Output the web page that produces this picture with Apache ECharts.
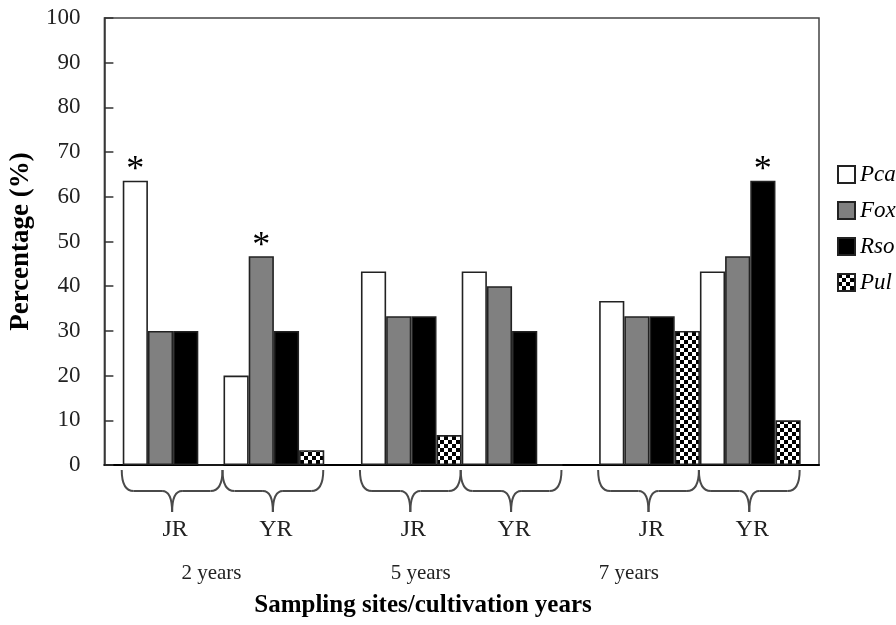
<!DOCTYPE html>
<html>
<head>
<meta charset="utf-8">
<script src="https://cdn.jsdelivr.net/npm/echarts@6/dist/echarts.min.js"></script>
<style>html,body{margin:0;padding:0;background:#fff;}#c{width:896px;height:625px;}</style>
</head>
<body>
<div id="c"></div>
<script>
// ---- data ----
const categories = ['2 years', '5 years', '7 years'];
const sites = ['JR', 'YR'];
const species = ['Pca', 'Fox', 'Rso', 'Pul'];
// order: 2y JR, 2y YR, 5y JR, 5y YR, 7y JR, 7y YR
const pca = [63.6, 20.0, 43.3, 43.3, 36.7, 43.3];
const fox = [30.0, 46.7, 33.3, 40.0, 33.3, 46.7];
const rso = [30.0, 30.0, 33.3, 30.0, 33.3, 63.6];
const pul = [0, 3.3, 6.7, 0, 30.0, 10.0];
// significance marks: [species index, group index]
const stars = [[0, 0], [1, 1], [2, 5]];
const yTicks = [0, 10, 20, 30, 40, 50, 60, 70, 80, 90, 100];

const values = [pca, fox, rso, pul];
const SERIF = "'Liberation Serif','Times New Roman',serif";

// checkerboard pattern
const pc = document.createElement('canvas');
pc.width = 8; pc.height = 8;
const g = pc.getContext('2d');
g.fillStyle = '#fff'; g.fillRect(0, 0, 8, 8);
g.fillStyle = '#000'; g.fillRect(0, 0, 4, 4); g.fillRect(4, 4, 4, 4);
const fills = ['#ffffff', '#808080', '#000000', { image: pc, repeat: 'repeat' }];

const CAT_GAP = 0.154;
const series = [];
sites.forEach((s, si) => {
  species.forEach((sp, k) => {
    series.push({
      type: 'bar',
      name: sp,
      barGap: '0%',
      barCategoryGap: (CAT_GAP * 100) + '%',
      itemStyle: { color: fills[k], borderColor: '#222', borderWidth: 1.6 },
      data: categories.map((c, i) => {
        const gi = i * 2 + si;
        const v = values[k][gi];
        const starred = stars.some(st => st[0] === k && st[1] === gi);
        const d = { value: v };
        if (starred) {
          d.label = { show: true, position: 'top', formatter: '*', fontSize: 36, fontFamily: SERIF, color: '#000', distance: -8 };
        }
        return d;
      })
    });
  });
});

const chart = echarts.init(document.getElementById('c'), null, { renderer: 'canvas' });
chart.setOption({
  animation: false,
  backgroundColor: '#fff',
  grid: { left: 104, right: 77, top: 18, bottom: 160, show: true, borderColor: '#444', borderWidth: 1.5, backgroundColor: 'transparent' },
  legend: {
    data: species,
    orient: 'vertical',
    left: 832, top: 158,
    itemWidth: 17, itemHeight: 17, itemGap: 13,
    icon: 'rect',
    textStyle: { fontFamily: SERIF, fontStyle: 'italic', fontSize: 23, color: '#000' }
  },
  xAxis: {
    type: 'category',
    data: categories,
    axisLine: { lineStyle: { color: '#000', width: 2 } },
    axisTick: { show: false },
    axisLabel: { show: false },
    splitLine: { show: false }
  },
  yAxis: {
    type: 'value', min: 0, max: 100, interval: 10,
    name: 'Percentage (%)', nameLocation: 'middle', nameGap: 56,
    nameTextStyle: { fontFamily: SERIF, fontWeight: 'bold', fontSize: 27, color: '#000' },
    axisLine: { show: true, lineStyle: { color: '#333', width: 1.5 } },
    axisTick: { show: true, inside: true, length: 9, lineStyle: { color: '#333', width: 1.5 } },
    axisLabel: { margin: 24, fontFamily: SERIF, fontSize: 23, color: '#222' },
    splitLine: { show: false }
  },
  series: series
});

// braces and labels under the axis
function braces() {
  const c0 = chart.convertToPixel({ xAxisIndex: 0 }, 0);
  const c1 = chart.convertToPixel({ xAxisIndex: 0 }, 1);
  const band = c1 - c0;
  const bw = band * (1 - CAT_GAP) / 8;
  const y0 = chart.convertToPixel({ yAxisIndex: 0 }, 0);
  const top = y0 + 5, mid = y0 + 26, tip = y0 + 47;
  const els = [];
  const st = { fill: null, stroke: '#4a4a4a', lineWidth: 2 };
  const curve = (x1, y1, cx, cy, x2, y2) => ({ type: 'bezierCurve', shape: { x1, y1, x2, y2, cpx1: cx, cpy1: cy }, style: st, silent: true });
  const line = (x1, y1, x2, y2) => ({ type: 'line', shape: { x1, y1, x2, y2 }, style: st, silent: true });
  const yearOffsets = [-12, -41, -71];
  categories.forEach((c, i) => {
    const cx = chart.convertToPixel({ xAxisIndex: 0 }, i);
    sites.forEach((s, si) => {
      const a = si === 0 ? cx - 4 * bw - 1 : cx - 1;
      const b = si === 0 ? cx - 1 : cx + 4 * bw - 1;
      const m = (a + b) / 2;
      els.push(curve(a, top, a, mid, a + 12, mid));
      els.push(line(a + 12, mid, m - 10, mid));
      els.push(curve(m - 10, mid, m, mid, m, tip));
      els.push(curve(m, tip, m, mid, m + 10, mid));
      els.push(line(m + 10, mid, b - 12, mid));
      els.push(curve(b - 12, mid, b, mid, b, top));
      els.push({ type: 'text', x: m + 3, y: y0 + 65, style: { text: s, font: `24px ${SERIF}`, fill: '#222', textAlign: 'center', textVerticalAlign: 'middle' } });
    });
    els.push({ type: 'text', x: cx + yearOffsets[i], y: y0 + 108, style: { text: c, font: `21px ${SERIF}`, fill: '#222', textAlign: 'center', textVerticalAlign: 'middle' } });
  });
  els.push({ type: 'text', x: 423, y: y0 + 141, style: { text: 'Sampling sites/cultivation years', font: `bold 25px ${SERIF}`, fill: '#000', textAlign: 'center', textVerticalAlign: 'middle' } });
  chart.setOption({ graphic: { elements: els } });
}
braces();
</script>
</body>
</html>
